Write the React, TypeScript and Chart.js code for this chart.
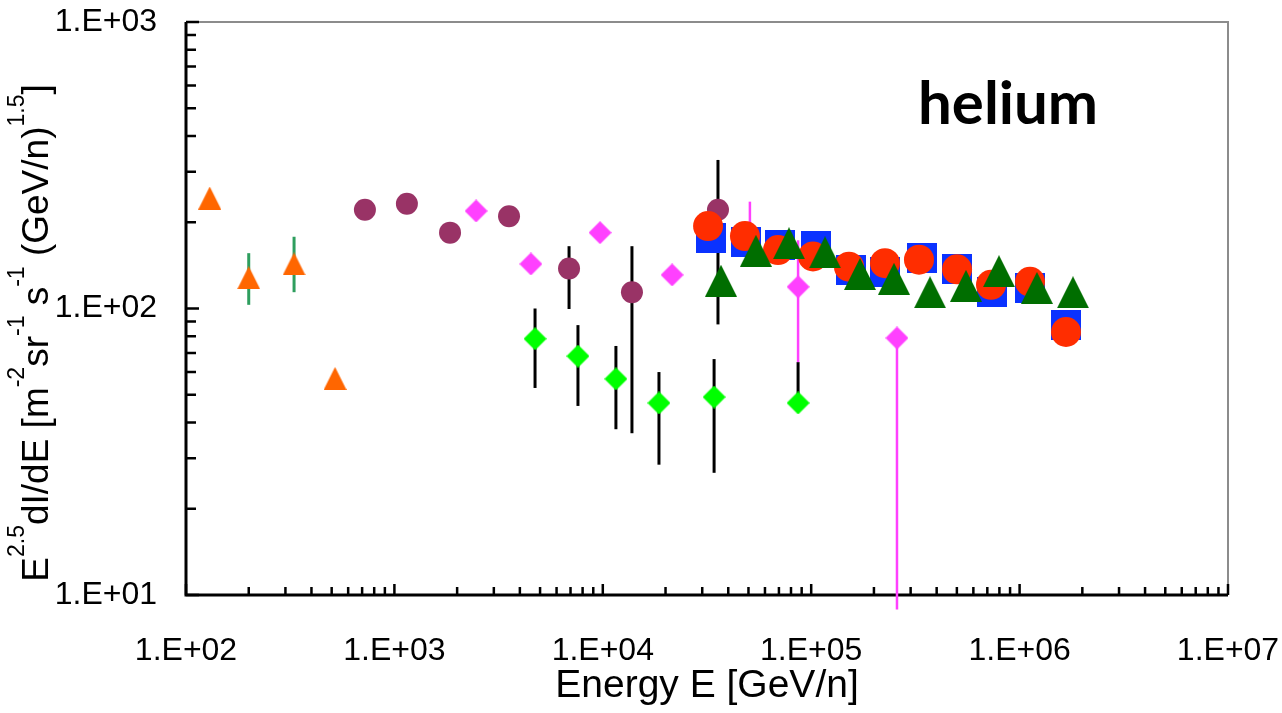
import React, { useEffect, useRef } from 'react';
import { Chart, registerables } from 'chart.js';

Chart.register(...registerables);

// ---------------- data ----------------
// tick labels (decades)
const xTickLabels = ['1.E+02', '1.E+03', '1.E+04', '1.E+05', '1.E+06', '1.E+07'];
const xTickExps = [2, 3, 4, 5, 6, 7];
const yTickLabels = ['1.E+01', '1.E+02', '1.E+03'];
const yTickExps = [1, 2, 3];

const xTitle = 'Energy E [GeV/n]';
const yTitleParts: [string, boolean][] = [
  ['E', false], ['2.5', true], ['dI/dE [m', false], ['-2', true], ['sr', false], ['-1', true],
  [' s', false], ['-1', true], [' (GeV/n)', false], ['1.5', true], [']', false],
];
const elementLabel = 'helium';

// orange triangles (green error bars)
const orangeTriE = [130, 200, 330, 519];
const orangeTriFlux = [243, 128, 143, 57];
const orangeTriLow = [null, 103, 114, null];
const orangeTriHigh = [null, 156, 178, null];

// maroon circles (black error bars)
const maroonE = [722, 1148, 1849, 3548, 6887, 13800, 35700];
const maroonFlux = [221, 232, 184, 210, 138, 114, 221];
const maroonLow = [null, null, null, null, 99.6, 36.7, 88];
const maroonHigh = [null, null, null, null, 165, 165, 330];

// magenta diamonds (magenta error bars)
const magentaE = [2466, 4519, 9700, 21500, 50800, 86500, 258000];
const magentaFlux = [219, 143, 184, 131, 184, 119, 78.9];
const magentaLow = [null, null, null, null, 143, 65, 8.9];
const magentaHigh = [null, null, null, null, 236, 173, 78.9];

// bright green diamonds (black error bars)
const greenDiaE = [4730, 7600, 11560, 18600, 34200, 86500];
const greenDiaFlux = [78.4, 68.2, 56.8, 46.8, 49.1, 46.8];
const greenDiaLow = [52.8, 45.7, 37.9, 28.5, 26.7, 46.8];
const greenDiaHigh = [100, 87.5, 74, 60, 66.6, 65];

// blue squares
const blueSqE = [33040, 48660, 70800, 105400, 155200, 226000, 340300, 501000, 737500, 1122000, 1670000];
const blueSqFlux = [176, 171, 167, 165, 136, 134, 150, 137, 114, 118, 87.6];

// red circles
const redCircE = [32000, 48100, 69300, 102000, 151800, 226000, 329000, 501000, 729000, 1122000, 1670000];
const redCircFlux = [194, 179, 160, 152, 140, 144, 148, 137, 121, 124, 82.8];

// dark green triangles
const darkTriE = [36900, 54300, 78200, 116500, 171400, 249600, 371700, 553000, 796000, 1211000, 1803000];
const darkTriFlux = [125, 159, 169, 157, 132, 127, 114, 120, 135, 118, 114];

// ---------------- helpers ----------------
const FONT = '"Liberation Sans", Arial, sans-serif';

function makeShape(kind: 'tri' | 'dia' | 'sq', size: number, color: string) {
  const c = document.createElement('canvas');
  c.width = size;
  c.height = size;
  const g = c.getContext('2d')!;
  g.fillStyle = color;
  g.beginPath();
  if (kind === 'tri') {
    g.moveTo(size / 2, 0);
    g.lineTo(size, size);
    g.lineTo(0, size);
  } else if (kind === 'dia') {
    g.moveTo(size / 2, 0);
    g.lineTo(size, size / 2);
    g.lineTo(size / 2, size);
    g.lineTo(0, size / 2);
  } else {
    g.rect(0, 0, size, size);
  }
  g.closePath();
  g.fill();
  return c;
}

const pts = (xs: number[], ys: number[]) => xs.map((x, i) => ({ x, y: ys[i] }));

const decorPlugin = {
  id: 'decor',
  beforeDatasetsDraw(chart: any) {
    const { ctx, chartArea: a, scales } = chart;
    const xs = scales.x;
    const ys = scales.y;
    ctx.save();
    // frame (top/right gray)
    ctx.strokeStyle = '#8c8c8c';
    ctx.lineWidth = 2;
    ctx.beginPath();
    ctx.moveTo(a.left, a.top);
    ctx.lineTo(a.right, a.top);
    ctx.lineTo(a.right, a.bottom);
    ctx.stroke();
    // axes (left/bottom black)
    ctx.strokeStyle = '#000';
    ctx.lineWidth = 3;
    ctx.beginPath();
    ctx.moveTo(a.left, a.top);
    ctx.lineTo(a.left, a.bottom);
    ctx.lineTo(a.right, a.bottom);
    ctx.stroke();
    // inward ticks
    ctx.lineWidth = 2.5;
    ctx.beginPath();
    for (let e = 1; e <= 3; e++) {
      for (let m = 1; m <= 9; m++) {
        if (e === 3 && m > 1) break;
        const py = ys.getPixelForValue(m * Math.pow(10, e));
        const len = m === 1 ? 13 : 10;
        ctx.moveTo(a.left, py);
        ctx.lineTo(a.left + len, py);
      }
    }
    for (let e = 2; e <= 7; e++) {
      for (let m = 1; m <= 9; m++) {
        if (e === 7 && m > 1) break;
        const px = xs.getPixelForValue(m * Math.pow(10, e));
        const len = m === 1 ? 11 : 8;
        ctx.moveTo(px, a.bottom);
        ctx.lineTo(px, a.bottom - len);
      }
    }
    ctx.stroke();
    // error bars
    chart.data.datasets.forEach((ds: any) => {
      if (!ds.errLow) return;
      ctx.strokeStyle = ds.errColor;
      ctx.lineWidth = ds.errWidth || 3;
      ds.data.forEach((p: any, i: number) => {
        const lo = ds.errLow[i];
        const hi = ds.errHigh[i];
        if (lo == null && hi == null) return;
        const px = xs.getPixelForValue(p.x);
        const y1 = ys.getPixelForValue(lo == null ? p.y : lo);
        const y2 = ys.getPixelForValue(hi == null ? p.y : hi);
        ctx.beginPath();
        ctx.moveTo(px, y1);
        ctx.lineTo(px, y2);
        ctx.stroke();
      });
    });
    ctx.restore();
  },
  afterDraw(chart: any) {
    const { ctx, chartArea: a } = chart;
    ctx.save();
    ctx.fillStyle = '#000';
    // x title
    ctx.font = `39px ${FONT}`;
    ctx.textAlign = 'center';
    ctx.textBaseline = 'alphabetic';
    ctx.fillText(xTitle, (a.left + a.right) / 2, 697);
    // y title with superscripts
    const mainFont = `37px ${FONT}`;
    const supFont = `23px ${FONT}`;
    let total = 0;
    yTitleParts.forEach(([t, sup]) => {
      ctx.font = sup ? supFont : mainFont;
      total += ctx.measureText(t).width;
    });
    ctx.translate(48, 333);
    ctx.rotate(-Math.PI / 2);
    ctx.textAlign = 'left';
    let cx = -total / 2;
    yTitleParts.forEach(([t, sup]) => {
      ctx.font = sup ? supFont : mainFont;
      ctx.fillText(t, cx, sup ? -24 : 0);
      cx += ctx.measureText(t).width;
    });
    ctx.setTransform(1, 0, 0, 1, 0, 0);
    // element label
    ctx.font = 'bold 60px Lato, "Open Sans", sans-serif';
    ctx.textAlign = 'left';
    ctx.fillText(elementLabel, 918, 124);
    ctx.restore();
  },
};

function tickLabel(value: number, exps: number[], labels: string[]) {
  const e = Math.log10(value);
  const r = Math.round(e);
  if (Math.abs(e - r) > 1e-6) return null;
  const idx = exps.indexOf(r);
  return idx >= 0 ? labels[idx] : null;
}

export default function App() {
  const ref = useRef<HTMLCanvasElement | null>(null);

  useEffect(() => {
    if (!ref.current) return;
    const orangeTri = makeShape('tri', 23, '#ff6600');
    const magentaDia = makeShape('dia', 23, '#ff40ff');
    const greenDia = makeShape('dia', 23, '#00ff00');
    const blueSq = makeShape('sq', 30, '#0a32ff');
    const darkTri = makeShape('tri', 32, '#006e00');

    const chart = new Chart(ref.current, {
      type: 'scatter',
      data: {
        datasets: [
          {
            label: 'dark green triangles',
            data: pts(darkTriE, darkTriFlux),
            pointStyle: darkTri,
            pointRadius: 16,
            order: 0,
          },
          {
            label: 'red circles',
            data: pts(redCircE, redCircFlux),
            pointStyle: 'circle',
            pointRadius: 15,
            pointBorderWidth: 0,
            backgroundColor: '#ff2d00',
            borderColor: '#ff2d00',
            order: 1,
          },
          {
            label: 'blue squares',
            data: pts(blueSqE, blueSqFlux),
            pointStyle: blueSq,
            pointRadius: 15,
            order: 2,
          },
          {
            label: 'maroon circles',
            data: pts(maroonE, maroonFlux),
            pointStyle: 'circle',
            pointRadius: 11,
            pointBorderWidth: 0,
            backgroundColor: '#993366',
            borderColor: '#993366',
            order: 3,
            errLow: maroonLow,
            errHigh: maroonHigh,
            errColor: '#000000',
            errWidth: 3,
          } as any,
          {
            label: 'orange triangles',
            data: pts(orangeTriE, orangeTriFlux),
            pointStyle: orangeTri,
            pointRadius: 12,
            order: 4,
            errLow: orangeTriLow,
            errHigh: orangeTriHigh,
            errColor: '#2e9e5e',
            errWidth: 3,
          } as any,
          {
            label: 'green diamonds',
            data: pts(greenDiaE, greenDiaFlux),
            pointStyle: greenDia,
            pointRadius: 12,
            order: 5,
            errLow: greenDiaLow,
            errHigh: greenDiaHigh,
            errColor: '#000000',
            errWidth: 3,
          } as any,
          {
            label: 'magenta diamonds',
            data: pts(magentaE, magentaFlux),
            pointStyle: magentaDia,
            pointRadius: 12,
            order: 6,
            errLow: magentaLow,
            errHigh: magentaHigh,
            errColor: '#ff40ff',
            errWidth: 2.5,
          } as any,
        ],
      },
      options: {
        animation: false,
        responsive: false,
        devicePixelRatio: 1,
        layout: { padding: { left: 0, top: 22, right: 54, bottom: 0 } },
        plugins: {
          legend: { display: false },
          tooltip: { enabled: false },
        },
        scales: {
          x: {
            type: 'logarithmic',
            min: 100,
            max: 1e7,
            afterFit: (s: any) => {
              s.height = 118;
              s.paddingLeft = 0;
              s.paddingRight = 0;
            },
            grid: { display: false, drawTicks: false },
            border: { display: false },
            ticks: {
              autoSkip: false,
              maxRotation: 0,
              padding: 37,
              color: '#000',
              font: { family: FONT, size: 32 },
              callback: (v: any) => tickLabel(Number(v), xTickExps, xTickLabels),
            },
          },
          y: {
            type: 'logarithmic',
            min: 10,
            max: 1000,
            afterFit: (s: any) => {
              s.width = 186;
              s.paddingTop = 0;
              s.paddingBottom = 0;
            },
            grid: { display: false, drawTicks: false },
            border: { display: false },
            ticks: {
              autoSkip: false,
              padding: 29,
              color: '#000',
              font: { family: FONT, size: 32 },
              callback: (v: any) => tickLabel(Number(v), yTickExps, yTickLabels),
            },
          },
        },
      } as any,
      plugins: [decorPlugin],
    });
    return () => chart.destroy();
  }, []);

  return (
    <div style={{ position: 'fixed', left: 0, top: 0, width: 1282, height: 713, background: '#fff' }}>
      <canvas ref={ref} width={1282} height={713} style={{ display: 'block' }} />
    </div>
  );
}
